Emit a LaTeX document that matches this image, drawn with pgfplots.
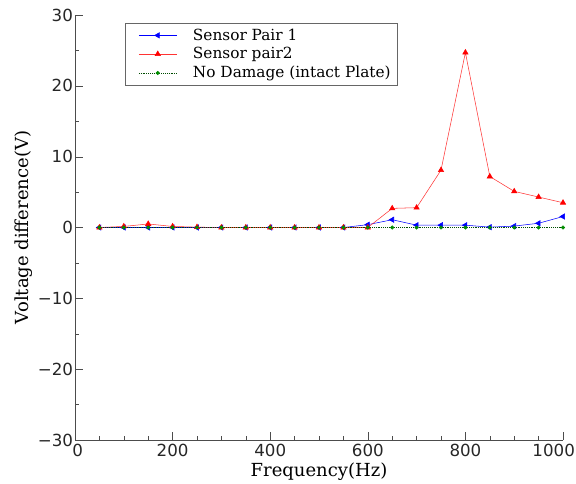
\documentclass[border=0pt]{standalone}
\usepackage{fontspec}
\setmainfont{DejaVu Serif}
\newfontfamily\ticksf{DejaVu Sans}
\usepackage{pgfplots}
\pgfplotsset{compat=1.18}
\usetikzlibrary{calc}
\begin{document}
\begin{tikzpicture}
\begin{axis}[
  scale only axis,
  width=366pt, height=318.75pt,
  xmin=0, xmax=1000, ymin=-30, ymax=30,
  axis x line=bottom, axis y line=left,
  axis line style={-, black!70},
  tick align=inside,
  xtick={0,200,...,1000}, ytick={-30,-20,...,30},
  xticklabels={\makebox[0pt][c]{\hspace{4pt}0},200,400,600,800,\makebox[0pt][c]{1000\hspace{14pt}}},
  yticklabels={−30,−20,−10,0,10,20,30},
  minor x tick num=3, minor y tick num=1,
  major tick length=6pt, minor tick length=3pt,
  tick style={black!70},
  ticklabel style={font=\ticksf\fontsize{12.5}{14}\selectfont, black!85},
  xticklabel style={yshift=0.5pt},
  yticklabel style={xshift=2pt},
  xlabel={Frequency(Hz)}, ylabel={Voltage difference(V)},
  label style={font=\fontsize{13.5}{15}\selectfont},
  xlabel style={yshift=2pt},
  ylabel style={yshift=-3pt},
  legend style={at={(rel axis cs:0.102,0.981)}, anchor=north west, draw=black!60, font=\fontsize{11.5}{13}\selectfont, row sep=0pt, inner sep=3pt, inner ysep=2pt},
  legend cell align=left,
  legend image code/.code={\path (0cm,0cm) (1.6cm,0cm); \draw[#1] (0.25cm,0cm) -- (1.25cm,0cm); \draw[#1, only marks] plot coordinates {(0.75cm,0cm)};},
]
\addplot[blue, mark=triangle*, mark size=2.3pt, mark options={rotate=90, fill=blue}] coordinates {
(50,0)(100,0)(150,0)(200,0)(250,0)(300,0)(350,0)(400,0)(450,0)(500,0)(550,0)(600,0.4)(650,1.1)(700,0.33)(750,0.33)(800,0.33)(850,0.05)(900,0.2)(950,0.6)(1000,1.55)};
\addlegendentry{Sensor Pair 1}
\addplot[red!80!white, mark=triangle*, mark size=2.3pt, mark options={red, fill=red}] coordinates {
(50,0)(100,0.15)(150,0.5)(200,0.15)(250,0.05)(300,0)(350,0)(400,0)(450,0)(500,0)(550,0)(600,0)(650,2.7)(700,2.8)(750,8.1)(800,24.7)(850,7.2)(900,5.1)(950,4.3)(1000,3.5)};
\addlegendentry{Sensor pair2}
\addplot[black!70!green, densely dotted, mark=*, mark size=1.3pt, mark options={solid, fill=green!55!black, draw=green!55!black}] coordinates {
(50,0)(100,0)(150,0)(200,0)(250,0)(300,0)(350,0)(400,0)(450,0)(500,0)(550,0)(600,0)(650,0)(700,0)(750,0)(800,0)(850,0)(900,0)(950,0)(1000,0)};
\addlegendentry{No Damage (intact Plate)}
\end{axis}
\pgfresetboundingbox
\path ($(current axis.south west)+(-56.25pt,-32.25pt)$) rectangle ($(current axis.north east)+(9.75pt,11.25pt)$);
\end{tikzpicture}
\end{document}
